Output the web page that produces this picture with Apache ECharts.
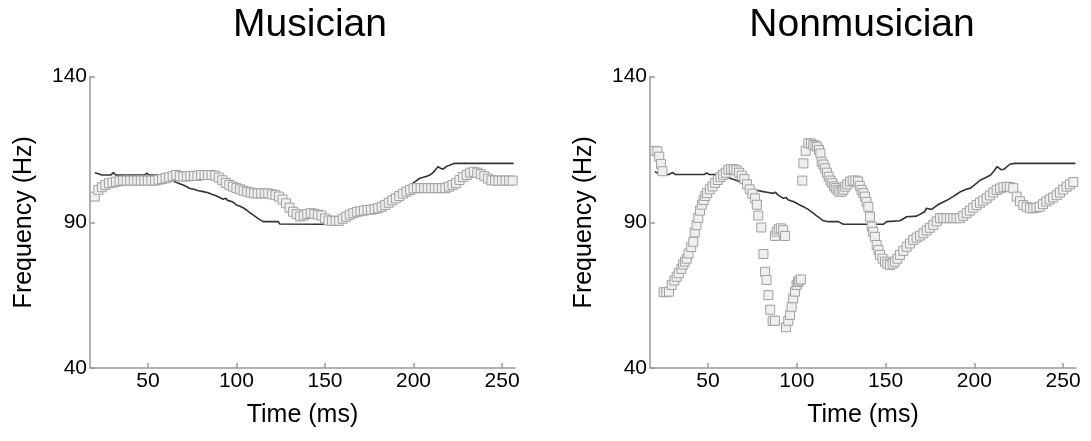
<!DOCTYPE html>
<html>
<head>
<meta charset="utf-8">
<script src="https://cdn.jsdelivr.net/npm/echarts@6/dist/echarts.min.js"></script>
<style>
html,body{margin:0;padding:0;background:#fff;}
#chart{width:1091px;height:441px;}
</style>
</head>
<body>
<div id="chart"></div>
<script>
// ---------- data ----------
var panelTitles = ['Musician', 'Nonmusician'];
var xTickValues = [50, 100, 150, 200, 250];
var yTickValues = [40, 90, 140];

// Musician: target contour (black line)
var musLineT = [20,22,24,29,30.5,32,48.3,49.3,50.5,57.7,60,62,64,66.2,68,69.9,72,73.7,76,78,81.2,84,86,87,88.5,90.5,92.5,94,95,97.3,98.5,99.3,100,102,104,105.7,107.5,109.4,111.5,113,115.1,123.6,124.5,149,151,155,160,165,170,175,178,181,183,184.5,186.6,188.5,190,192,194.1,196,198,199.7,201.5,203.5,206,207.5,209.2,211,212.5,213.9,215.3,216.7,218.5,220.5,223.3,256.5];
var musLineF = [107,106.6,106.2,106.2,107,106.2,106.2,106.9,106.2,106.2,105.7,105,104.3,103.6,103.2,102.8,102.2,101.6,101.3,100.9,100.5,100.1,99.6,99.9,99.1,98.5,97.9,98.2,97.5,97.1,96.7,97,95.9,95.5,94.9,94.2,93.3,92.5,91.6,91,90.2,90.2,89.4,89.3,89.5,89.7,90.5,91.5,92.5,93.5,94.5,96.5,97.2,97.8,98.8,99.4,100,100.5,101.1,101.8,102.6,103.4,104.2,105.1,105.5,105.8,106.2,107,108.1,109.1,108.5,108.2,109.1,109.6,110.2,110.2];

// Musician: produced pitch (square markers)
var musMarkT = [20,22,24,26,28,30,32,34,36,38,40,42,44,46,48,50,52,54,56,58,60,62,64,66,68,70,72,74,76,78,80,82,84,86,88,90,92,94,96,98,100,102,104,106,108,110,112,114,116,118,120,122,124,126,128,130,132,134,136,138,140,142,144,146,148,150,152,154,156,158,160,162,164,166,168,170,172,174,176,178,180,182,184,186,188,190,192,194,196,198,200,202,204,206,208,210,212,214,216,218,220,222,224,226,228,230,232,234,236,238,240,242,244,246,248,250,252,254,256];
var musMarkF = [98.8,101.1,102,102.8,103.4,103.6,103.9,104.1,104.3,104.3,104.3,104.3,104.3,104.3,104.3,104.3,104.3,104.3,104.6,104.8,105.1,105.4,105.8,106.2,105.8,105.7,105.7,105.9,105.9,105.9,106.2,106.2,106.2,106.2,106,105.3,104.4,103.5,102.8,102.2,101.7,101.3,100.8,100.5,100.2,99.9,99.9,99.9,99.9,99.9,99.6,99.3,98.8,97.8,96.5,95,93.6,92.8,92,92.3,92.8,93.1,92.9,92.6,92.3,91.3,90.6,90.5,90.5,90.5,91.2,91.9,92.6,93.1,93.6,93.8,94,94.2,94.3,94.5,94.8,95.3,95.9,96.7,97.5,98.2,99,99.8,100.5,101.1,101.6,101.7,101.7,101.7,101.7,101.7,101.7,101.7,101.7,101.7,102.2,102.8,103.4,104.5,105.5,106.2,107,107.3,107,106.5,105.8,105,104.4,104.3,104.3,104.3,104.3,104.3,104.3];

// Nonmusician: target contour (black line)
var nonLineT = [20,22,24,28,30,31.5,48,49.2,50.5,58.6,60.5,62.4,65,68,70,71.8,73.5,75.5,78,81.1,84,86.8,88,89.5,92.4,94,95,98,100,101,102,103.7,106,107.5,109.3,111,113,115,118,123.4,124.5,126.2,148.7,150.6,158.1,160,161.9,167.5,170,172,173.1,174,176,179.2,182,184.8,188,190,192.3,195,197.9,200,203.5,206,209.2,211,212.9,215.2,217,220,222.8,257];
var nonLineF = [107.3,106.8,106.4,106.4,107.1,106.4,106.4,106.9,106.4,106.4,105.8,105.1,104.6,103.9,103,102.2,101.7,101.3,100.9,100.5,100.2,99.9,100.3,99.3,98.2,98.5,97.7,97.1,96.5,96.8,95.8,95.3,94.6,93.9,93.1,92.3,91.4,90.5,90.2,90.2,89.7,89.3,89.3,90.2,90.5,91.2,91.9,92.1,92.9,93.6,94.8,94.2,94.4,95.9,96.8,97.6,98.8,99.6,100.5,101.2,101.7,102.7,104.5,105.2,106.2,107.5,109.1,108,108.3,109.9,110.2,110.2];

// Nonmusician: produced pitch (square markers)
var nonMarkT = [20,21.5,22.5,23.5,24.3,
  25,26.5,28,29.5,31,32.3,33.5,35,36,37,38,39,40.5,41.7,42.5,43.5,44.5,45.5,46.5,47.5,48.5,49.5,51,52.5,54,55.5,57,58.5,60,61.5,63,64.5,66,67.5,69,70.5,72,73.5,75,76.5,77.5,78.3,80,81.2,82.1,83,84,85,86.4,87.7,
  87.7,88.7,89.8,91,92.3,93.4,
  93.9,95.2,96.2,97.1,98,99,99.9,100.7,101.4,102.3,
  103.1,103.7,105,106.5,108,109.3,110.5,111.5,112.5,113.3,114,115,116,117,118,119,120,121,122,123,124,125.3,126.3,127.3,128.5,130,131.5,133,134.5,135.5,136.5,137.5,138.4,139.3,140.3,141.2,142.2,143,144,145,146,146.9,148.3,149.7,151,152.5,154,155.3,156.7,158.1,160,161.9,163.8,165.6,167.5,169.4,171.3,173.2,175,176.9,178.8,180.7,182.5,184.4,186.3,188.2,190,191.9,193.8,195.7,197.5,199.4,201.3,203.2,205,207,208.8,210.7,212.6,214.5,216.4,218.3,220,222,223.9,225.7,227.6,229.5,231.4,233.2,235,236.8,238.7,240.6,242.5,244.4,246.4,248.3,250.1,252,253.9,255.8,257.5];
var nonMarkF = [114.5,114.3,112.5,110,107.5,
  66,66,66.2,68.5,70,71.3,72.5,74,75.5,76.5,77.5,79.3,81.5,83.3,86.5,89,91.5,94,96,97.6,99,100,101.3,102.3,103.5,104.5,105.5,106.3,107,108,108.2,108.2,107.8,107,106,104.8,103,101.3,99.8,98.2,96,92.3,88.2,79.1,73,70.2,65,60,56.2,56.2,
  85.3,86.8,87.6,87.9,87.3,85.3,
  54,56.2,58.2,61,63.9,66.2,68.5,69.5,70,70.4,
  104.3,110.2,114.5,117.1,117,116.5,116.3,115.9,114.8,113.6,110.8,109.8,108.5,107,105.6,104.3,103.4,102.3,101.7,101,100.5,100.5,101.2,102.2,103,103.9,104.3,104.3,104,102.5,101.1,100,98.8,97,95.3,91.9,88.5,86.7,85,82.2,80.5,78.8,77.5,76.5,75.8,75.3,75.8,76.5,77.5,78.8,80.2,81.6,82.7,83.9,84.7,85.4,86.2,87.2,88.1,89.1,90.3,91.4,91.4,91.4,91.4,91.4,91.4,91.4,92.2,93.1,94,95,95.9,96.7,97.4,98.2,99.2,100.2,101.1,101.6,102,102.2,102.1,101.7,98.8,97.2,95.9,95.3,94.8,94.8,95,95.3,96.2,97.1,97.8,98.5,99.3,100.2,101.2,102.2,103,103.8,104.5];

function zip(a, b) { var r = []; for (var i = 0; i < a.length; i++) r.push([a[i], b[i]]); return r; }

// ---------- chart ----------
var FONT = '"Liberation Sans", Arial, sans-serif';
var grids = [
  {left: 90, width: 425, top: 76.5, height: 291.5},
  {left: 650, width: 426, top: 76.5, height: 291.5}
];
var axisLineStyle = {color: '#999', width: 1.5};

function xAxis(i) {
  return {
    type: 'value', gridIndex: i, min: 17.3, max: 257.3,
    name: 'Time (ms)', nameLocation: 'middle', nameGap: 35,
    nameTextStyle: {color: '#000', fontSize: 25, fontFamily: FONT},
    axisLine: {show: true, lineStyle: axisLineStyle},
    axisTick: {show: true, inside: true, length: 5, lineStyle: axisLineStyle, customValues: xTickValues},
    axisLabel: {color: '#000', fontSize: 21, fontFamily: FONT, margin: 3, customValues: xTickValues},
    splitLine: {show: false}
  };
}
function yAxis(i) {
  return {
    type: 'value', gridIndex: i, min: 40, max: 140,
    name: 'Frequency (Hz)', nameLocation: 'middle', nameGap: 53,
    nameTextStyle: {color: '#000', fontSize: 25, fontFamily: FONT},
    axisLine: {show: true, lineStyle: axisLineStyle},
    axisTick: {show: true, inside: true, length: 5, lineStyle: axisLineStyle, customValues: yTickValues},
    axisLabel: {color: '#000', fontSize: 21, fontFamily: FONT, margin: 3, customValues: yTickValues},
    splitLine: {show: false}
  };
}
function lineSeries(i, t, f) {
  return {
    type: 'line', xAxisIndex: i, yAxisIndex: i, data: zip(t, f),
    showSymbol: false, symbol: 'none', z: 2,
    lineStyle: {color: '#333', width: 1.6}
  };
}
function markSeries(i, t, f) {
  return {
    type: 'scatter', xAxisIndex: i, yAxisIndex: i, data: zip(t, f),
    symbol: 'rect', symbolSize: 9, z: 3, large: false,
    itemStyle: {color: '#efefef', borderColor: '#a0a0a0', borderWidth: 1, opacity: 1}
  };
}

var chart = echarts.init(document.getElementById('chart'), null, {renderer: 'canvas'});
chart.setOption({
  animation: false,
  backgroundColor: '#fff',
  title: [
    {text: panelTitles[0], left: 305, top: 1, textAlign: 'center',
     textStyle: {color: '#000', fontSize: 39, fontWeight: 'normal', fontFamily: FONT}},
    {text: panelTitles[1], left: 857, top: 1, textAlign: 'center',
     textStyle: {color: '#000', fontSize: 39, fontWeight: 'normal', fontFamily: FONT}}
  ],
  grid: grids,
  xAxis: [xAxis(0), xAxis(1)],
  yAxis: [yAxis(0), yAxis(1)],
  series: [
    lineSeries(0, musLineT, musLineF),
    markSeries(0, musMarkT, musMarkF),
    lineSeries(1, nonLineT, nonLineF),
    markSeries(1, nonMarkT, nonMarkF)
  ]
});
</script>
</body>
</html>
